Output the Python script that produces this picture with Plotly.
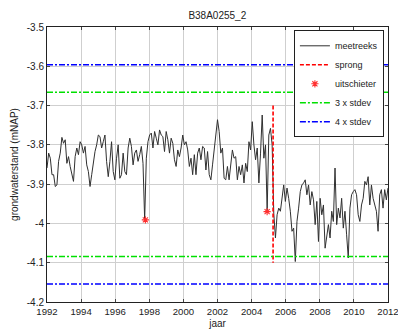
import plotly.graph_objects as go

# --- data ---
start_year = 1992.0
end_year = 2012.0

levels_a = [-3.859,-3.821,-3.834,-3.876,-3.876,-3.906,-3.902,-3.842,-3.821,-3.781,-3.796,-3.787,-3.847,-3.830,-3.855,-3.876,-3.893,-3.830,-3.808,-3.825,-3.792,-3.800,-3.821,-3.804,-3.851,-3.868,-3.906,-3.876,-3.842,-3.817,-3.800,-3.775,-3.779,-3.808,-3.792]
levels_b = [-3.775,-3.842,-3.881,-3.842,-3.792,-3.868,-3.889,-3.834,-3.800,-3.885,-3.876,-3.821,-3.868,-3.876,-3.808,-3.783,-3.804,-3.851,-3.821,-3.813,-3.842,-3.825,-3.804,-3.847,-3.991,-3.834,-3.792,-3.775,-3.770,-3.808,-3.766,-3.783,-3.800,-3.762,-3.775]
levels_c = [-3.779,-3.817,-3.766,-3.787,-3.821,-3.783,-3.796,-3.838,-3.855,-3.813,-3.830,-3.808,-3.775,-3.800,-3.792,-3.813,-3.855,-3.834,-3.876,-3.825,-3.876,-3.821,-3.808,-3.838,-3.804,-3.808,-3.864,-3.817,-3.876,-3.889,-3.851,-3.813,-3.758,-3.736,-3.766]
levels_d = [-3.821,-3.808,-3.885,-3.889,-3.855,-3.889,-3.842,-3.813,-3.834,-3.830,-3.889,-3.855,-3.876,-3.851,-3.897,-3.847,-3.868,-3.792,-3.813,-3.741,-3.800,-3.838,-3.808,-3.897,-3.821,-3.724,-3.834,-3.800,-3.969,-3.775,-3.758,-3.800,-3.974,-4.037,-3.978]
levels_e = [-3.961,-3.969,-3.927,-3.902,-3.944,-3.910,-3.936,-3.969,-4.020,-4.012,-4.097,-3.995,-3.961,-3.919,-3.902,-3.897,-3.889,-3.927,-3.902,-3.953,-3.919,-3.940,-4.003,-3.944,-4.046,-3.936,-3.978,-3.953,-4.063,-4.029,-4.003,-4.037,-3.969,-3.995,-3.859]
levels_f = [-4.003,-3.961,-3.986,-3.936,-4.012,-3.969,-4.029,-4.088,-3.961,-3.927,-3.919,-3.914,-3.927,-3.978,-3.995,-3.953,-3.936,-3.893,-3.902,-3.881,-3.953,-3.902,-3.936,-3.953,-3.969,-4.020,-3.927,-3.914,-3.961,-3.914,-3.940,-3.910]

outlier_years = [1997.77, 2004.91]
outlier_levels = [-3.991, -3.970]

sprong_year = 2005.26
sprong_range = [-3.70, -4.10]

stdev3_levels = [-3.666, -4.084]
stdev4_levels = [-3.596, -4.154]

x_ticks = [1992, 1994, 1996, 1998, 2000, 2002, 2004, 2006, 2008, 2010, 2012]
y_ticks = [-4.2, -4.1, -4.0, -3.9, -3.8, -3.7, -3.6, -3.5]
y_ticktext = ["-4.2", "-4.1", "-4", "-3.9", "-3.8", "-3.7", "-3.6", "-3.5"]

levels = levels_a + levels_b + levels_c + levels_d + levels_e + levels_f
n = len(levels)
years = [start_year + i * (end_year - start_year) / (n - 1) for i in range(n)]

FONT = "Liberation Sans, Arial, sans-serif"

fig = go.Figure()
fig.add_trace(go.Scatter(x=years, y=levels, mode="lines", name="meetreeks",
                         line=dict(color="#303030", width=1.0)))
fig.add_trace(go.Scatter(x=[sprong_year, sprong_year], y=sprong_range, mode="lines",
                         name="sprong", line=dict(color="#ff0000", width=1.6, dash="4px,2px")))
fig.add_trace(go.Scatter(x=outlier_years, y=outlier_levels, mode="markers", name="uitschieter",
                         marker=dict(symbol="asterisk-open", size=6, color="#ff3030",
                                     line=dict(color="#ff3030", width=1.1))))
fig.add_trace(go.Scatter(x=[start_year, end_year, None, start_year, end_year],
                         y=[stdev3_levels[0], stdev3_levels[0], None, stdev3_levels[1], stdev3_levels[1]],
                         mode="lines", name="3 x stdev",
                         line=dict(color="#00e000", width=1.4, dash="6px,2px,2px,2px")))
fig.add_trace(go.Scatter(x=[start_year, end_year, None, start_year, end_year],
                         y=[stdev4_levels[0], stdev4_levels[0], None, stdev4_levels[1], stdev4_levels[1]],
                         mode="lines", name="4 x stdev",
                         line=dict(color="#0000ff", width=1.4, dash="6px,2px,2px,2px")))

fig.update_layout(
    width=398, height=331,
    margin=dict(l=47, r=10, t=27, b=29, autoexpand=False),
    paper_bgcolor="white", plot_bgcolor="white",
    font=dict(family=FONT, size=10, color="#222222"),
    title=dict(text="B38A0255_2", x=0.546, xanchor="center", y=0.952, yanchor="middle",
               font=dict(family=FONT, size=10, color="#222222")),
    showlegend=True,
    legend=dict(x=0.988, y=0.988, xanchor="right", yanchor="top",
                bgcolor="white", bordercolor="#202020", borderwidth=1,
                font=dict(family=FONT, size=9, color="#222222"),
                tracegroupgap=0, itemwidth=30),
)
fig.update_xaxes(range=[start_year, end_year], tickvals=x_ticks, ticks="inside", ticklen=3,
                 showline=True, linecolor="#222222", linewidth=1, mirror="ticks",
                 showgrid=True, gridcolor="#cfcfcf", gridwidth=1, zeroline=False,
                 ticklabeloverflow="allow", automargin=False,
                 title=dict(text="jaar", standoff=4, font=dict(size=10)),
                 tickfont=dict(size=9.6))
fig.update_yaxes(range=[-4.2, -3.5], tickvals=y_ticks, ticktext=y_ticktext, ticks="inside", ticklen=3,
                 showline=True, linecolor="#222222", linewidth=1, mirror="ticks",
                 showgrid=True, gridcolor="#cfcfcf", gridwidth=1, zeroline=False,
                 ticklabeloverflow="allow", automargin=False,
                 title=dict(text="grondwaterstand (mNAP)", standoff=6, font=dict(size=10)),
                 tickfont=dict(size=10))

fig.write_html("out.html", config={"displayModeBar": False},
               post_script="document.body.style.margin='0';document.body.style.overflow='hidden';")
